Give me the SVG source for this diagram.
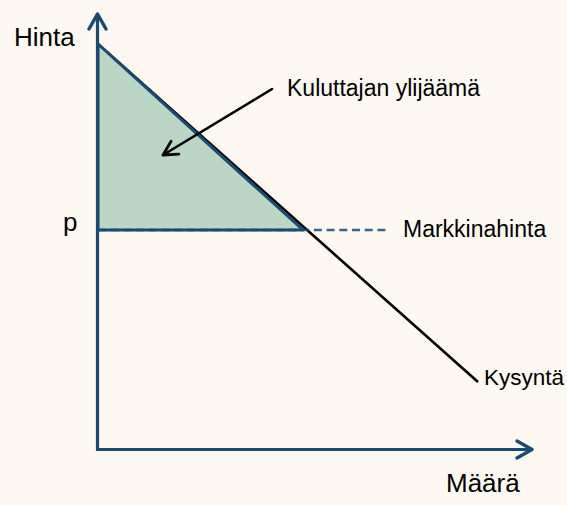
<svg xmlns="http://www.w3.org/2000/svg" width="567" height="505" viewBox="0 0 567 505">
  <style>
    .lbl { font-family: "Liberation Sans", Arial, sans-serif; fill: #000; }
    .axis { stroke: #1b4a72; stroke-width: 3.2; fill: none; }
    .head { stroke: #1b4a72; stroke-width: 3.5; fill: none; stroke-linecap: round; stroke-linejoin: round; }
  </style>
  <defs>
    <marker id="blk" viewBox="0 0 20 20" refX="18" refY="10" markerWidth="20" markerHeight="20" markerUnits="userSpaceOnUse" orient="auto">
      <path d="M4,2.5 L18,10 L4,17.5" fill="none" stroke="#000" stroke-width="2.8" stroke-linecap="round" stroke-linejoin="round"/>
    </marker>
  </defs>
  <rect width="567" height="505" fill="#fdf9f2"/>

  <g id="demand">
    <line x1="98" y1="44" x2="478" y2="382" stroke="#000" stroke-width="2.6"/>
  </g>

  <g id="surplus">
    <polygon points="98,44 303,230 98,230" fill="#bcd6c6" stroke="#1b4a72" stroke-width="3" stroke-linejoin="round"/>
  </g>

  <g id="connectors">
    <line x1="98" y1="230" x2="390" y2="230" stroke="#1b4a72" stroke-width="2.6" stroke-dasharray="8,4.7" opacity="0.85"/>
    <line x1="272" y1="89" x2="163" y2="155" stroke="#000" stroke-width="2.6" stroke-linecap="round" marker-end="url(#blk)"/>
  </g>

  <g id="axes">
    <line class="axis" x1="97.5" y1="451" x2="97.5" y2="15"/>
    <polyline class="head" points="89,29 97.5,14 106,29"/>
    <line class="axis" x1="96" y1="449.5" x2="531" y2="449.5"/>
    <polyline class="head" points="517,441 532,449.5 517,458"/>
  </g>

  <g id="labels">
    <text class="lbl" x="14" y="46" font-size="26">Hinta</text>
    <text class="lbl" x="63" y="231" font-size="26">p</text>
    <text class="lbl" x="287" y="96" font-size="23">Kuluttajan ylijäämä</text>
    <text class="lbl" x="403" y="237" font-size="23">Markkinahinta</text>
    <text class="lbl" x="484" y="385" font-size="22.5">Kysyntä</text>
    <text class="lbl" x="446" y="492" font-size="26">Määrä</text>
  </g>
</svg>
